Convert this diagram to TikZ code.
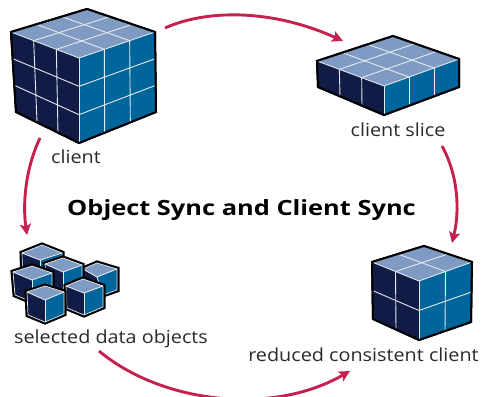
\documentclass[tikz,border=0pt]{standalone}
\usepackage{fontspec}
\setmainfont{Open Sans}
\usetikzlibrary{calc,arrows.meta}
\definecolor{topc}{HTML}{7F9BC4}
\definecolor{leftc}{HTML}{101C45}
\definecolor{rightc}{HTML}{00659A}
\definecolor{gridc}{HTML}{E4E9F0}
\definecolor{arrowc}{HTML}{C4214E}
\definecolor{textc}{HTML}{2A2A2A}
\tikzset{
  flow/.style={draw=arrowc,line width=2.9pt,-{Stealth[length=11pt,width=11pt,inset=2.5pt]}},
  label/.style={text=textc,inner sep=0pt,anchor=base},
  gridline/.style={draw=gridc,line width=0.9pt},
  outline/.style={draw=black,line width=2pt,line join=miter},
}
\newcommand{\lbl}[1]{\scalebox{1.1}[1]{\fontsize{18}{20}\selectfont #1}}
% #1 L, #2 apex, #3 R, #4 centre, #5 BL, #6 bottom, #7 BR
\newcommand{\boxfaces}[7]{%
  \coordinate (L) at #1; \coordinate (A) at #2; \coordinate (R) at #3;
  \coordinate (C) at #4; \coordinate (BL) at #5; \coordinate (B) at #6; \coordinate (BR) at #7;
  \draw[outline,fill=leftc] (L)--(A)--(R)--(BR)--(B)--(BL)--cycle;
  \fill[topc] (L)--(A)--(R)--(C)--cycle;
  \fill[rightc] (C)--(R)--(BR)--(B)--cycle;
  \fill[leftc] (L)--(C)--(B)--(BL)--cycle;
}
% #8 cells across, #9 cells down
\newcommand{\gridcube}[9]{%
  \boxfaces{#1}{#2}{#3}{#4}{#5}{#6}{#7}%
  \pgfmathtruncatemacro{\nn}{#8-1}%
  \pgfmathtruncatemacro{\mm}{#9-1}%
  \foreach \i in {1,...,\nn}{
    \pgfmathsetmacro{\t}{\i/#8}
    \draw[gridline] ($(L)!\t!(C)$)--($(A)!\t!(R)$);
    \draw[gridline] ($(L)!\t!(A)$)--($(C)!\t!(R)$);
    \draw[gridline] ($(L)!\t!(C)$)--($(BL)!\t!(B)$);
    \draw[gridline] ($(C)!\t!(R)$)--($(B)!\t!(BR)$);
  }
  \ifnum\mm>0
  \foreach \j in {1,...,\mm}{
    \pgfmathsetmacro{\t}{\j/#9}
    \draw[gridline] ($(L)!\t!(BL)$)--($(C)!\t!(B)$)--($(R)!\t!(BR)$);
  }
  \fi
  \draw[gridline] (C)--(B);
  \draw[gridline] (L)--(C)--(R);
  \draw[outline,fill=none] (L)--(A)--(R)--(BR)--(B)--(BL)--cycle;
}
\newcommand{\smallcube}[7]{%
  \draw[draw=black,line width=5pt,line join=miter] #1--#2--#3--#7--#6--#5--cycle;
  \boxfaces{#1}{#2}{#3}{#4}{#5}{#6}{#7}%
  \draw[gridline,line width=0.7pt] (L)--(A)--(R)--(BR)--(B)--(BL)--cycle;
  \draw[gridline] (C)--(B);
  \draw[gridline] (L)--(C)--(R);
}
\begin{document}
\begin{tikzpicture}[x=1pt,y=-1pt]
\useasboundingbox (0,0) rectangle (481,396);
\clip (0,0) rectangle (481,396);
\fill[white] (0,0) rectangle (481,396);

\gridcube{(11,32)}{(87,9)}{(155,32)}{(79,58)}{(16,112)}{(79,143)}{(156,112)}{3}{3}
\gridcube{(317,61)}{(393,36)}{(459,59)}{(384,86)}{(318,87)}{(384,115)}{(459,87)}{3}{1}
\gridcube{(372,262)}{(424,246)}{(472,262)}{(419,281)}{(373,319)}{(419,340)}{(471,322)}{2}{2}

% selected data objects
\smallcube{(22,253)}{(42,245)}{(62,253)}{(40,260)}{(23,285)}{(40,292)}{(62,285)}
\smallcube{(83,269)}{(97,263)}{(117,269)}{(97,277)}{(83,290)}{(103,295)}{(117,290)}
\smallcube{(45,264)}{(63,258)}{(82,265)}{(63,272)}{(47,288)}{(63,298)}{(82,292)}
\smallcube{(13,272)}{(32,266)}{(52,273)}{(32,280)}{(15,295)}{(32,302)}{(52,295)}
\smallcube{(66,286)}{(83,279)}{(103,286)}{(84,293)}{(67,308)}{(84,315)}{(103,307)}
\smallcube{(27,292)}{(45,286)}{(64,292)}{(45,300)}{(28,315)}{(45,322)}{(64,314)}

% labels
\node[label] (lclient) at (76,163) {\lbl{client}};
\node[label] (lslice) at (398,136) {\lbl{client slice}};
\node[label] (lsel) at (111,343) {\lbl{selected data objects}};
\node[label] (lred) at (363.5,361) {\lbl{reduced consistent client}};
\node[inner sep=0pt,anchor=base,text=black] (title) at (241.5,215)
  {\scalebox{1.21}[1]{\fontsize{21}{24}\selectfont\bfseries Object Sync and Client Sync}};

% connectors
\coordinate (a1) at (165,28); \coordinate (a2) at (343,41);
\coordinate (b1) at (442,146); \coordinate (b2) at (452,243);
\coordinate (c1) at (40,138); \coordinate (c2) at (27,235);
\coordinate (d1) at (99,351); \coordinate (d2) at (350,371);
\draw[flow] (a1) .. controls (205,10) and (270,8) .. (a2);
\draw[flow] (b1) .. controls (458,175) and (460,210) .. (b2);
\draw[flow] (c1) .. controls (27,165) and (22,200) .. (c2);
\draw[flow] (d1) .. controls (160,402) and (270,417) .. (d2);
\end{tikzpicture}
\end{document}
